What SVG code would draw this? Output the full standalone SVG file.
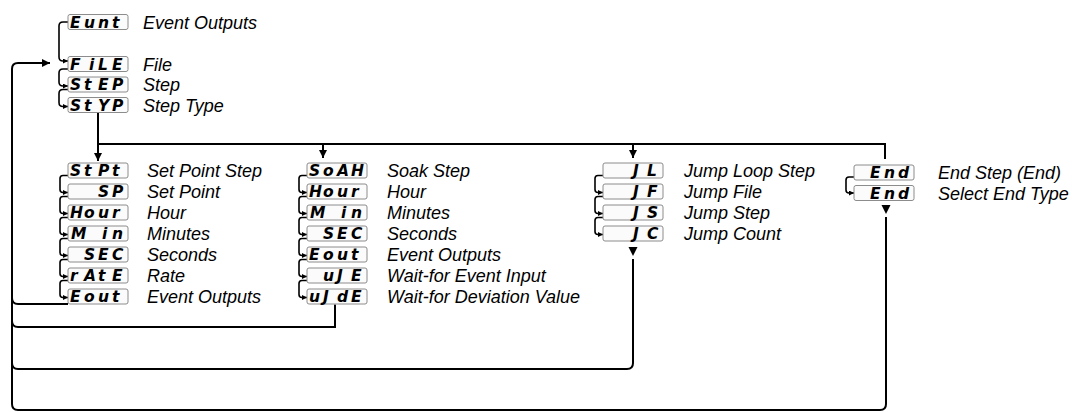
<svg xmlns="http://www.w3.org/2000/svg" width="1072" height="412" viewBox="0 0 1072 412">
<style>
.bg{fill:#ffffff}
.box{fill:#fbfbfb;stroke:#8c8c8c;stroke-width:1}
.seg{font-family:"DejaVu Sans",sans-serif;font-weight:bold;font-style:oblique;font-size:15.5px;fill:#000}
.lbl{font-family:"Liberation Sans",Arial,sans-serif;font-style:italic;font-size:18px;fill:#000}
.main{fill:none;stroke:#000;stroke-width:2}
.br{fill:none;stroke:#000;stroke-width:1.6}
</style>
<defs>
<marker id="ah" viewBox="0 0 10 10" refX="10" refY="5" markerWidth="8" markerHeight="8" markerUnits="userSpaceOnUse" orient="auto"><path d="M0,0 L10,5 L0,10 z" fill="#000"/></marker>
<marker id="sa" viewBox="0 0 10 10" refX="10" refY="5" markerWidth="5" markerHeight="5" markerUnits="userSpaceOnUse" orient="auto"><path d="M0,0 L10,5 L0,10 z" fill="#000"/></marker>
</defs>
<rect class="bg" x="0" y="0" width="1072" height="412"/>

<g id="connectors">
<path class="br" marker-end="url(#sa)" d="M68,22 H63 Q59,22 59,26 V57 Q59,61 63,61 H68"/>
<path class="br" marker-end="url(#sa)" d="M68,69 H63 Q59,69 59,73 V82 Q59,86 63,86 H68"/>
<path class="br" marker-end="url(#sa)" d="M68,89.5 H63 Q59,89.5 59,93.5 V102.5 Q59,106.5 63,106.5 H68"/>
<path class="br" marker-end="url(#sa)" d="M68,175.5 H63 Q60,175.5 60,178.5 V189.5 Q60,192.5 63,192.5 H68"/>
<path class="br" marker-end="url(#sa)" d="M68,196.5 H63 Q60,196.5 60,199.5 V210.5 Q60,213.5 63,213.5 H68"/>
<path class="br" marker-end="url(#sa)" d="M68,217.5 H63 Q60,217.5 60,220.5 V231.5 Q60,234.5 63,234.5 H68"/>
<path class="br" marker-end="url(#sa)" d="M68,238.5 H63 Q60,238.5 60,241.5 V252.5 Q60,255.5 63,255.5 H68"/>
<path class="br" marker-end="url(#sa)" d="M68,259.5 H63 Q60,259.5 60,262.5 V273.5 Q60,276.5 63,276.5 H68"/>
<path class="br" marker-end="url(#sa)" d="M68,280.5 H63 Q60,280.5 60,283.5 V294.5 Q60,297.5 63,297.5 H68"/>
<path class="br" marker-end="url(#sa)" d="M307,175.5 H302 Q299,175.5 299,178.5 V189.5 Q299,192.5 302,192.5 H307"/>
<path class="br" marker-end="url(#sa)" d="M307,196.5 H302 Q299,196.5 299,199.5 V210.5 Q299,213.5 302,213.5 H307"/>
<path class="br" marker-end="url(#sa)" d="M307,217.5 H302 Q299,217.5 299,220.5 V231.5 Q299,234.5 302,234.5 H307"/>
<path class="br" marker-end="url(#sa)" d="M307,238.5 H302 Q299,238.5 299,241.5 V252.5 Q299,255.5 302,255.5 H307"/>
<path class="br" marker-end="url(#sa)" d="M307,259.5 H302 Q299,259.5 299,262.5 V273.5 Q299,276.5 302,276.5 H307"/>
<path class="br" marker-end="url(#sa)" d="M307,280.5 H302 Q299,280.5 299,283.5 V294.5 Q299,297.5 302,297.5 H307"/>
<path class="br" marker-end="url(#sa)" d="M603,175.5 H598 Q595,175.5 595,178.5 V189.5 Q595,192.5 598,192.5 H603"/>
<path class="br" marker-end="url(#sa)" d="M603,196.5 H598 Q595,196.5 595,199.5 V210.5 Q595,213.5 598,213.5 H603"/>
<path class="br" marker-end="url(#sa)" d="M603,217.5 H598 Q595,217.5 595,220.5 V231.5 Q595,234.5 598,234.5 H603"/>
<path class="br" marker-end="url(#sa)" d="M854,177 H849 Q846,177 846,180 V190 Q846,193 849,193 H854"/>

<path class="main" marker-end="url(#ah)" d="M98,112.5 V161"/>
<path class="main" d="M98,144 H885 V159"/>
<path class="main" marker-end="url(#ah)" d="M323,144 V158"/>
<path class="main" marker-end="url(#ah)" d="M633,144 V158"/>
<path d="M628.5,247 H637.5 L633,256 z" fill="#000"/>
<path d="M881.5,205 H890.5 L886,214 z" fill="#000"/>
<path class="main" d="M68,304 H18 Q12,304 12,298"/>
<path class="main" d="M335,304.5 V327 H18 Q12,327 12,321"/>
<path class="main" d="M633,259 V363 Q633,369 627,369 H18 Q12,369 12,363"/>
<path class="main" marker-end="url(#ah)" d="M886,217 V404 Q886,410 880,410 H18 Q12,410 12,404 V69 Q12,63 18,63 H50"/>
</g>

<g id="n-eunt"><rect class="box" x="68" y="14.5" width="60" height="15" rx="2"/><text class="seg" x="70 84 98 112" y="27.5">Eunt</text><text class="lbl" x="143" y="28.5">Event Outputs</text></g>
<g id="n-file"><rect class="box" x="68" y="56.5" width="60" height="15" rx="2"/><text class="seg" x="70 89 98 112" y="69.5">FiLE</text><text class="lbl" x="143" y="70.5">File</text></g>
<g id="n-step"><rect class="box" x="68" y="77" width="60" height="15" rx="2"/><text class="seg" x="70 84 98 112" y="90">StEP</text><text class="lbl" x="143" y="91">Step</text></g>
<g id="n-styp"><rect class="box" x="68" y="97.5" width="60" height="15" rx="2"/><text class="seg" x="70 84 98 112" y="110.5">StYP</text><text class="lbl" x="143" y="111.5">Step Type</text></g>

<g id="c1-stpt"><rect class="box" x="68" y="163" width="60" height="15" rx="2"/><text class="seg" x="70 84 98 112" y="176">StPt</text><text class="lbl" x="147" y="177">Set Point Step</text></g>
<g id="c1-sp"><rect class="box" x="68" y="184" width="60" height="15" rx="2"/><text class="seg" x="98 112" y="197">SP</text><text class="lbl" x="147" y="198">Set Point</text></g>
<g id="c1-hour"><rect class="box" x="68" y="205" width="60" height="15" rx="2"/><text class="seg" x="70 84 98 112" y="218">Hour</text><text class="lbl" x="147" y="219">Hour</text></g>
<g id="c1-min"><rect class="box" x="68" y="226" width="60" height="15" rx="2"/><text class="seg" x="71 102 112" y="239">Min</text><text class="lbl" x="147" y="240">Minutes</text></g>
<g id="c1-sec"><rect class="box" x="68" y="247" width="60" height="15" rx="2"/><text class="seg" x="84 98 112" y="260">SEC</text><text class="lbl" x="147" y="261">Seconds</text></g>
<g id="c1-rate"><rect class="box" x="68" y="268" width="60" height="15" rx="2"/><text class="seg" x="70 84 98 112" y="281">rAtE</text><text class="lbl" x="147" y="282">Rate</text></g>
<g id="c1-eout"><rect class="box" x="68" y="289" width="60" height="15" rx="2"/><text class="seg" x="70 84 98 112" y="302">Eout</text><text class="lbl" x="147" y="303">Event Outputs</text></g>

<g id="c2-soak"><rect class="box" x="307" y="163" width="60" height="15" rx="2"/><text class="seg" x="309 323 337 351" y="176">SoAH</text><text class="lbl" x="387" y="177">Soak Step</text></g>
<g id="c2-hour"><rect class="box" x="307" y="184" width="60" height="15" rx="2"/><text class="seg" x="309 323 337 351" y="197">Hour</text><text class="lbl" x="387" y="198">Hour</text></g>
<g id="c2-min"><rect class="box" x="307" y="205" width="60" height="15" rx="2"/><text class="seg" x="310 341 351" y="218">Min</text><text class="lbl" x="387" y="219">Minutes</text></g>
<g id="c2-sec"><rect class="box" x="307" y="226" width="60" height="15" rx="2"/><text class="seg" x="323 337 351" y="239">SEC</text><text class="lbl" x="387" y="240">Seconds</text></g>
<g id="c2-eout"><rect class="box" x="307" y="247" width="60" height="15" rx="2"/><text class="seg" x="309 323 337 351" y="260">Eout</text><text class="lbl" x="387" y="261">Event Outputs</text></g>
<g id="c2-wfe"><rect class="box" x="307" y="268" width="60" height="15" rx="2"/><text class="seg" x="323 337 351" y="281">uJE</text><text class="lbl" x="387" y="282">Wait-for Event Input</text></g>
<g id="c2-wfd"><rect class="box" x="307" y="289" width="60" height="15" rx="2"/><text class="seg" x="309 323 337 351" y="302">uJdE</text><text class="lbl" x="387" y="303">Wait-for Deviation Value</text></g>

<g id="c3-jl"><rect class="box" x="603" y="163" width="60" height="15" rx="2"/><text class="seg" x="633 647" y="176">JL</text><text class="lbl" x="684" y="177">Jump Loop Step</text></g>
<g id="c3-jf"><rect class="box" x="603" y="184" width="60" height="15" rx="2"/><text class="seg" x="633 647" y="197">JF</text><text class="lbl" x="684" y="198">Jump File</text></g>
<g id="c3-js"><rect class="box" x="603" y="205" width="60" height="15" rx="2"/><text class="seg" x="633 647" y="218">JS</text><text class="lbl" x="684" y="219">Jump Step</text></g>
<g id="c3-jc"><rect class="box" x="603" y="226" width="60" height="15" rx="2"/><text class="seg" x="633 647" y="239">JC</text><text class="lbl" x="684" y="240">Jump Count</text></g>

<g id="c4-end"><rect class="box" x="854" y="165" width="60" height="15" rx="2"/><text class="seg" x="870 884 898" y="178">End</text><text class="lbl" x="938" y="179">End Step (End)</text></g>
<g id="c4-endtype"><rect class="box" x="854" y="185.5" width="60" height="15" rx="2"/><text class="seg" x="870 884 898" y="198.5">End</text><text class="lbl" x="938" y="199.5">Select End Type</text></g>
</svg>
